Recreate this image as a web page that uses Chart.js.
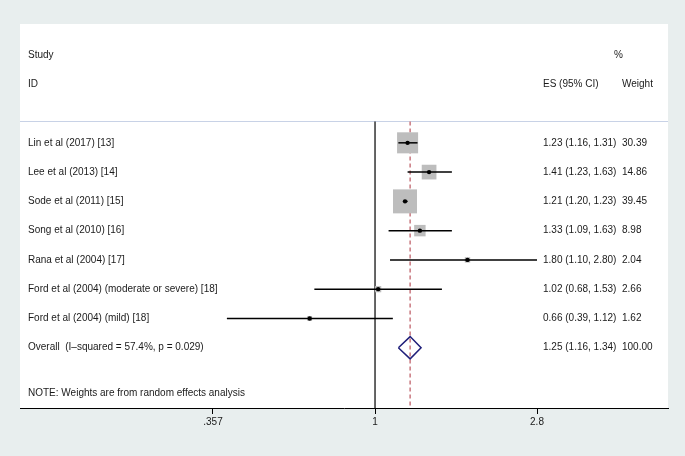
<!DOCTYPE html>
<html>
<head>
<meta charset="utf-8">
<script src="https://cdn.jsdelivr.net/npm/chart.js@4.4.0/dist/chart.umd.min.js"></script>
<style>
  html, body { margin: 0; padding: 0; background: #e8eeee; }
  canvas { display: block; }
</style>
</head>
<body>
<canvas id="forest" width="685" height="456"></canvas>
<script>
// dados do forest plot
const estudos = [
  "Lin et al (2017) [13]",
  "Lee et al (2013) [14]",
  "Sode et al (2011) [15]",
  "Song et al (2010) [16]",
  "Rana et al (2004) [17]",
  "Ford et al (2004) (moderate or severe) [18]",
  "Ford et al (2004) (mild) [18]"
];
const es = [1.23, 1.41, 1.21, 1.33, 1.80, 1.02, 0.66];
const ciLow = [1.16, 1.23, 1.20, 1.09, 1.10, 0.68, 0.39];
const ciHigh = [1.31, 1.63, 1.23, 1.63, 2.80, 1.53, 1.12];
const pesos = [30.39, 14.86, 39.45, 8.98, 2.04, 2.66, 1.62];

const overallLabel = "Overall  (I\u2013squared = 57.4%, p = 0.029)";
const overallES = [1.25, 1.16, 1.34];
const overallPeso = 100.00;

const xTicks = [0.357, 1, 2.8];
const xTickLabels = [".357", "1", "2.8"];

// linhas (eixo y em "linhas de texto")
const rowStudy = 1, rowID = 2, rowSep = 3.27, rowFirst = 4, rowNote = 12.55, rowMax = 13.06;
const rows = estudos.map((_, i) => rowFirst + i);
const rowOverall = rowFirst + estudos.length;

const FONT = "10px 'Liberation Sans', Arial, sans-serif";

const fundo = {
  id: "fundo",
  beforeDraw(chart) {
    const { ctx, chartArea: a } = chart;
    ctx.save();
    ctx.fillStyle = "#e8eeee";
    ctx.fillRect(0, 0, chart.width, chart.height);
    ctx.fillStyle = "#ffffff";
    ctx.fillRect(a.left, a.top, a.right - a.left, a.bottom - a.top);
    // linha separadora do cabecalho
    const y = Math.round(chart.scales.y.getPixelForValue(rowSep)) + 0.5;
    ctx.strokeStyle = "#c8d2e6";
    ctx.lineWidth = 1;
    ctx.beginPath();
    ctx.moveTo(a.left, y);
    ctx.lineTo(a.right, y);
    ctx.stroke();
    ctx.restore();
  }
};

const textos = {
  id: "textos",
  afterDatasetsDraw(chart) {
    const { ctx, scales: { y } } = chart;
    const xLabel = 28, xES = 543, xPeso = 622;
    ctx.save();
    ctx.font = FONT;
    ctx.fillStyle = "#1a1a1a";
    ctx.textBaseline = "middle";
    const put = (t, x, r) => ctx.fillText(t, x, y.getPixelForValue(r));
    put("Study", xLabel, rowStudy);
    put("ID", xLabel, rowID);
    put("ES (95% CI)", xES, rowID);
    put("%", xPeso - 8, rowStudy);
    put("Weight", xPeso, rowID);
    estudos.forEach((s, i) => {
      put(s, xLabel, rows[i]);
      put(es[i].toFixed(2) + " (" + ciLow[i].toFixed(2) + ", " + ciHigh[i].toFixed(2) + ")", xES, rows[i]);
      put(pesos[i].toFixed(2), xPeso, rows[i]);
    });
    put(overallLabel, xLabel, rowOverall);
    put(overallES[0].toFixed(2) + " (" + overallES[1].toFixed(2) + ", " + overallES[2].toFixed(2) + ")", xES, rowOverall);
    put(overallPeso.toFixed(2), xPeso, rowOverall);
    put("NOTE: Weights are from random effects analysis", xLabel, rowNote);
    ctx.restore();
  }
};

const pontos = es.map((v, i) => ({ x: v, y: rows[i] }));

const datasets = [
  {
    label: "ES",
    data: pontos,
    pointStyle: "circle",
    pointRadius: 2.2,
    backgroundColor: "#000",
    borderWidth: 0
  },
  ...estudos.map((s, i) => ({
    label: s,
    data: [{ x: ciLow[i], y: rows[i] }, { x: ciHigh[i], y: rows[i] }],
    showLine: true,
    borderColor: "#000",
    borderWidth: 1.5,
    pointRadius: 0
  })),
  {
    label: "Overall",
    data: [
      { x: overallES[1], y: rowOverall },
      { x: overallES[0], y: rowOverall - 0.38 },
      { x: overallES[2], y: rowOverall },
      { x: overallES[0], y: rowOverall + 0.38 },
      { x: overallES[1], y: rowOverall }
    ],
    showLine: true,
    borderColor: "#1f1f7a",
    borderWidth: 1.5,
    pointRadius: 0,
    tension: 0
  },
  {
    label: "pesos",
    data: pontos,
    pointStyle: "rect",
    pointRadius: ctx => 2.7 * Math.sqrt(pesos[ctx.dataIndex]),
    backgroundColor: "#bdbdbd",
    borderWidth: 0
  },
  {
    label: "efeito global",
    data: [{ x: overallES[0], y: rowSep }, { x: overallES[0], y: rowMax }],
    showLine: true,
    borderColor: "#c9787f",
    borderWidth: 1.5,
    borderDash: [4, 3],
    pointRadius: 0
  },
  {
    label: "nulo",
    data: [{ x: 1, y: rowSep }, { x: 1, y: rowMax }],
    showLine: true,
    borderColor: "#000",
    borderWidth: 1.2,
    pointRadius: 0
  }
];

new Chart(document.getElementById("forest").getContext("2d"), {
  type: "scatter",
  data: { datasets },
  options: {
    responsive: false,
    animation: false,
    events: [],
    layout: { padding: { left: 20, right: 15, top: 24, bottom: 0 } },
    plugins: { legend: { display: false }, tooltip: { enabled: false } },
    scales: {
      x: {
        type: "logarithmic",
        min: 0.1047,
        max: 6.44,
        afterBuildTicks: axis => { axis.ticks = xTicks.map(v => ({ value: v })); },
        afterFit: axis => { axis.height = 48; },
        ticks: {
          autoSkip: false,
          maxRotation: 0,
          padding: 2,
          color: "#1a1a1a",
          font: { family: "'Liberation Sans', Arial, sans-serif", size: 10 },
          callback: (v, i) => xTickLabels[i]
        },
        grid: { drawOnChartArea: false, drawTicks: true, tickLength: 6, color: "#000" },
        border: { display: true, color: "#000", width: 1 }
      },
      y: {
        type: "linear",
        reverse: true,
        min: -0.06,
        max: rowMax,
        display: false
      }
    }
  },
  plugins: [fundo, textos]
});
</script>
</body>
</html>
